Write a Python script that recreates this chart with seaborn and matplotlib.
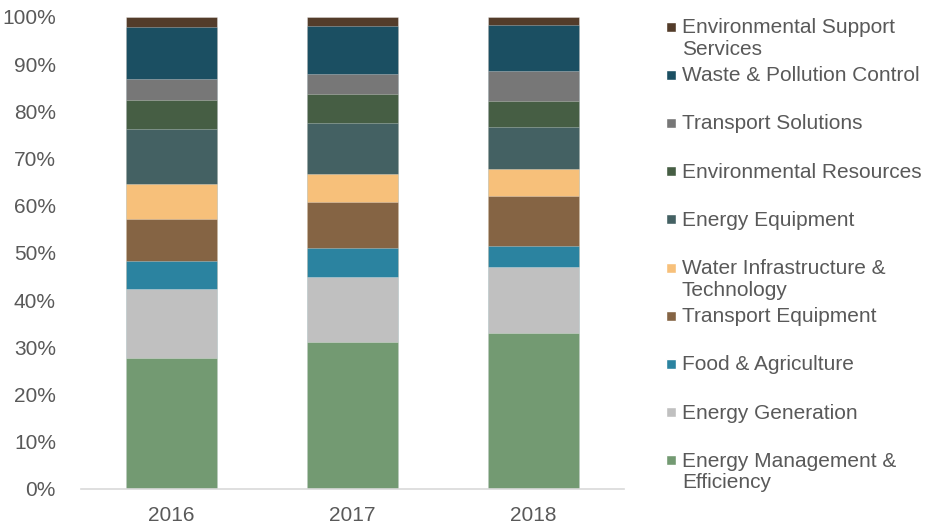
import pandas as pd
import seaborn as sns
import matplotlib.pyplot as plt
from matplotlib.patches import Rectangle
from matplotlib.ticker import PercentFormatter

years = ['2016', '2017', '2018']

# stacking order, bottom to top
sectors = ['Energy Management &\nEfficiency', 'Energy Generation', 'Food & Agriculture',
           'Transport Equipment', 'Water Infrastructure &\nTechnology', 'Energy Equipment',
           'Environmental Resources', 'Transport Solutions', 'Waste & Pollution Control',
           'Environmental Support\nServices']

energy_mgmt = [27.8, 31.2, 33.0]
energy_gen = [14.6, 13.7, 14.0]
food_agri = [5.8, 6.1, 4.4]
transport_equip = [9.0, 9.7, 10.6]
water_infra = [7.4, 6.0, 5.9]
energy_equip = [11.7, 10.8, 8.7]
env_resources = [6.1, 6.1, 5.7]
transport_sol = [4.5, 4.3, 6.2]
waste_pollution = [11.0, 10.2, 9.7]
env_support = [2.1, 1.9, 1.8]

colors = ['#739A72', '#C0C0C0', '#2B83A0', '#856444', '#F7C07A',
          '#446163', '#465E44', '#777777', '#1B4F62', '#533C2A']

series = [energy_mgmt, energy_gen, food_agri, transport_equip, water_infra,
          energy_equip, env_resources, transport_sol, waste_pollution, env_support]

df = pd.DataFrame(series, index=sectors, columns=years).T
cum = df.cumsum(axis=1)
cum = cum.div(cum.iloc[:, -1], axis=0) * 100

fig = plt.figure(figsize=(9.27, 5.29), dpi=100)
ax = fig.add_axes([81 / 927, 1 - 489 / 529, (624 - 81) / 927, (489 - 17) / 529])

sns.set_style('white')
plt.rcParams['font.family'] = ['Liberation Sans', 'DejaVu Sans']

# draw cumulative totals from the top down so each lower layer covers the one above
for i in range(len(sectors) - 1, -1, -1):
    d = pd.DataFrame({'year': years, 'val': cum.iloc[:, i].values})
    sns.barplot(data=d, x='year', y='val', color=colors[i], width=0.5,
                edgecolor=(1, 1, 1, 0.35), linewidth=0.6, saturation=1, ax=ax)

ax.set_ylim(0, 100)
ax.set_xlim(-0.5, 2.5)
ax.set_yticks(range(0, 101, 10))
ax.yaxis.set_major_formatter(PercentFormatter(decimals=0))
ax.set_xlabel('')
ax.set_ylabel('')
for s in ['top', 'right', 'left']:
    ax.spines[s].set_visible(False)
ax.spines['bottom'].set_color('#D9D9D9')
ax.spines['bottom'].set_linewidth(1.2)
ax.tick_params(axis='both', length=0, labelsize=15, labelcolor='#595959')
ax.tick_params(axis='x', pad=12)
ax.tick_params(axis='y', pad=18)
for lab in ax.get_xticklabels() + ax.get_yticklabels():
    lab.set_family(['Liberation Sans', 'DejaVu Sans'])

# legend, top entry first, fixed slots like the original
W, H = 927, 529
for k, i in enumerate(range(len(sectors) - 1, -1, -1)):
    yc = 26.5 + 48.2 * k
    fig.patches.append(Rectangle((666 / W, 1 - (yc + 5) / H), 10 / W, 10 / H,
                                 facecolor=colors[i], transform=fig.transFigure))
    fig.text(682 / W, 1 - (yc - 8.5) / H, sectors[i], ha='left', va='top',
             fontsize=15, color='#595959', linespacing=1.18,
             family=['Liberation Sans', 'DejaVu Sans'])

fig.savefig('out.png', dpi=100)
